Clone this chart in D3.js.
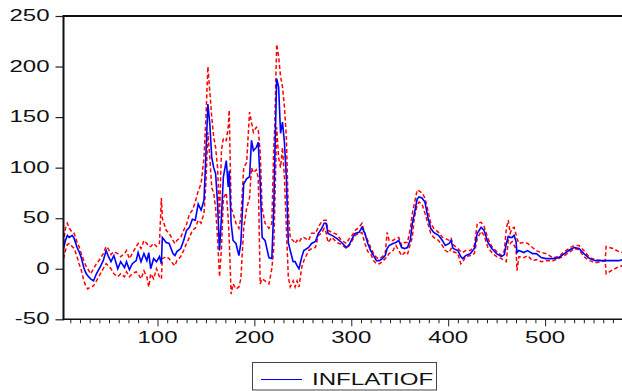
<!DOCTYPE html>
<html>
<head>
<meta charset="utf-8">
<script src="https://cdn.jsdelivr.net/npm/d3@7"></script>
<style>
  body { margin: 0; background: #fff; }
  svg text { font-family: "Liberation Sans", Arial, sans-serif; fill: #111; }
</style>
</head>
<body>
<div id="chart"></div>
<script>
// forecast of inflation with +/- 2 s.e. bands
const obs = [3,5,7,9,12,14,17,19,21,24,26,28,31,34,37,41,44,47,49,52,55,59,62,66,68,71,74,78,80,83,86,89,91,93,96,99,102,104,105,109,112,116,118,120,124,127,130,133,136,139,142,145,148,150,152,154,156,158,160,162,164,166,168,171,173,174,176,178,181,184,186,189,192,195,197,199,202,204,206,208,211,215,218,220,221,223,225,227,229,231,233,235,237,240,242,244,246,249,251,256,259,263,266,269,272,274,276,280,285,290,295,298,301,304,308,311,314,317,320,323,326,329,332,335,337,339,343,346,349,352,355,358,361,363,365,368,370,373,376,379,382,385,390,394,397,401,403,405,410,413,415,418,423,427,430,434,437,441,445,450,455,458,460,462,464,466,468,470,471,473,478,482,487,491,496,501,508,514,520,526,530,535,540,546,552,558,562,563,570,576,580];
const forecast = [20,28,33,31,33,30,21,17,12,1,-4,-7,-10,-12,-5,2,8,18,13,7,13,0,7,1,7,-1,5,8,16,7,15,8,16,0,10,7,12,5,31,26,25,15,13,17,20,28,38,41,49,48,64,58,68,114,163,143,110,100,94,64,18,51,91,107,81,97,45,28,25,13,25,84,89,91,127,117,120,125,84,31,28,11,10,60,107,188,180,134,145,125,90,26,18,7,7,3,0,12,18,21,25,27,35,39,45,45,35,33,30,26,21,24,30,35,36,41,35,25,18,13,8,8,10,13,20,23,25,26,28,21,20,21,29,45,54,69,71,70,66,51,40,36,33,28,23,25,28,20,18,12,10,13,15,20,35,41,38,26,20,15,12,14,25,32,31,31,33,27,16,18,16,18,15,15,11,10,10,11,15,19,21,20,15,10,8,8,8,8,8,8,9];
const upper = [25,40,45,40,36,35,26,22,16,8,3,0,-5,0,5,10,15,22,20,14,17,15,12,15,18,10,15,22,25,20,28,25,22,22,25,22,25,70,50,38,35,28,25,28,31,38,44,54,58,66,77,84,110,150,200,175,150,130,120,100,50,117,129,127,140,157,60,55,45,40,50,100,105,155,145,135,140,138,115,60,45,40,45,120,140,222,210,190,180,160,130,57,30,28,25,28,26,31,31,28,35,35,41,46,48,48,38,36,34,28,25,30,33,38,41,45,35,28,21,15,11,10,12,15,36,28,28,30,31,23,26,26,40,55,64,78,77,75,70,58,45,40,36,31,30,28,30,24,20,17,16,18,18,23,45,46,42,30,22,17,13,18,40,48,35,40,41,34,30,25,26,25,21,18,16,15,11,12,17,21,23,23,18,11,9,8,8,22,20,17,16];
const lower = [10,18,24,25,22,20,12,5,0,-12,-17,-20,-18,-17,-12,-5,0,5,3,0,-5,-8,-5,-8,-3,-8,-5,-3,-5,-10,-2,-8,-18,-5,-10,0,-8,-10,10,12,10,5,3,8,12,18,25,31,38,40,48,45,55,85,135,110,80,75,60,30,-8,20,70,75,50,30,-25,-15,-20,-18,-10,40,60,70,100,95,98,90,-15,-10,-12,-15,0,20,60,140,110,100,120,90,40,-8,-18,-12,-18,-12,-18,2,8,18,20,21,33,35,40,36,26,31,26,24,20,23,28,33,35,36,25,17,15,8,5,5,7,10,12,15,18,23,18,13,16,14,25,31,50,63,66,64,55,45,35,31,28,23,18,16,20,17,15,5,7,12,13,15,30,37,33,21,16,12,10,8,7,28,25,27,23,20,-2,12,11,13,8,9,7,8,8,10,13,17,20,19,12,8,6,7,8,-5,-1,2,3];
const yTicks = [-50, 0, 50, 100, 150, 200, 250];
const xLabels = [100, 200, 300, 400, 500];
const seriesName = "INFLATIOF";

const width = 622, height = 391;
const plot = { left: 63.5, right: 622.6, top: 16, bottom: 319.3 };

const svg = d3.select('#chart')
  .append('svg')
  .attr('width', width)
  .attr('height', height);

const x = d3.scaleLinear().domain([3, 580]).range([plot.left, plot.right]);
const y = d3.scaleLinear().domain([-50, 250]).range([plot.bottom, plot.top]);

svg.append('clipPath').attr('id', 'clip')
  .append('rect')
  .attr('x', plot.left).attr('y', plot.top)
  .attr('width', plot.right - plot.left).attr('height', plot.bottom - plot.top);

// lines
const pts = arr => obs.map((o, i) => [o, arr[i]]);
const line = d3.line().x(d => x(d[0])).y(d => y(d[1]));

const g = svg.append('g').attr('clip-path', 'url(#clip)');

[upper, lower].forEach(band => {
  g.append('path')
    .datum(pts(band))
    .attr('fill', 'none')
    .attr('stroke', '#ff0000')
    .attr('stroke-width', 1.5)
    .attr('stroke-dasharray', '4,2.5')
    .attr('d', line);
});

g.append('path')
  .datum(pts(forecast))
  .attr('fill', 'none')
  .attr('stroke', '#0000ff')
  .attr('stroke-width', 1.6)
  .attr('d', line);

// Y axis
svg.append('g')
  .attr('transform', `translate(${plot.left},0)`)
  .call(d3.axisLeft(y).tickValues(yTicks).tickSize(8).tickFormat(''))
  .call(a => a.select('.domain').remove())
  .call(a => a.selectAll('.tick line').attr('stroke', '#222').attr('stroke-width', 1.2));

yTicks.forEach(v => {
  svg.append('g')
    .attr('transform', `translate(49.5,${y(v) + 5}) scale(1.5,1)`)
    .append('text')
    .attr('text-anchor', 'end')
    .attr('font-size', 16)
    .text(v);
});

// X axis
svg.append('g')
  .attr('transform', `translate(0,${plot.bottom})`)
  .call(d3.axisBottom(x).tickValues(d3.range(10, 581, 10)).tickSize(4).tickFormat(''))
  .call(a => a.select('.domain').remove())
  .call(a => a.selectAll('.tick line')
    .attr('stroke', '#222')
    .attr('y2', d => d % 100 === 0 ? 7 : 4));

xLabels.forEach(v => {
  svg.append('g')
    .attr('transform', `translate(${x(v)},343.3) scale(1.5,1)`)
    .append('text')
    .attr('text-anchor', 'middle')
    .attr('font-size', 16)
    .text(v);
});

// frame
svg.append('line').attr('x1', plot.left).attr('x2', plot.left)
  .attr('y1', plot.top - 1).attr('y2', plot.bottom + 1)
  .attr('stroke', '#111').attr('stroke-width', 2);
svg.append('line').attr('x1', plot.left).attr('x2', width)
  .attr('y1', plot.top).attr('y2', plot.top)
  .attr('stroke', '#111').attr('stroke-width', 2);
svg.append('line').attr('x1', plot.left).attr('x2', width)
  .attr('y1', plot.bottom).attr('y2', plot.bottom)
  .attr('stroke', '#111').attr('stroke-width', 1.6);

// legend
const lg = svg.append('g');
lg.append('rect')
  .attr('x', 252.5).attr('y', 362.5)
  .attr('width', 184).attr('height', 27.5)
  .attr('fill', '#fff').attr('stroke', '#444').attr('stroke-width', 1);
lg.append('line')
  .attr('x1', 261).attr('x2', 302).attr('y1', 379.5).attr('y2', 379.5)
  .attr('stroke', '#0000ff').attr('stroke-width', 1.2);
lg.append('g')
  .attr('transform', 'translate(312,384.5) scale(1.46,1)')
  .append('text')
  .attr('font-size', 16.5)
  .text(seriesName);
</script>
</body>
</html>
